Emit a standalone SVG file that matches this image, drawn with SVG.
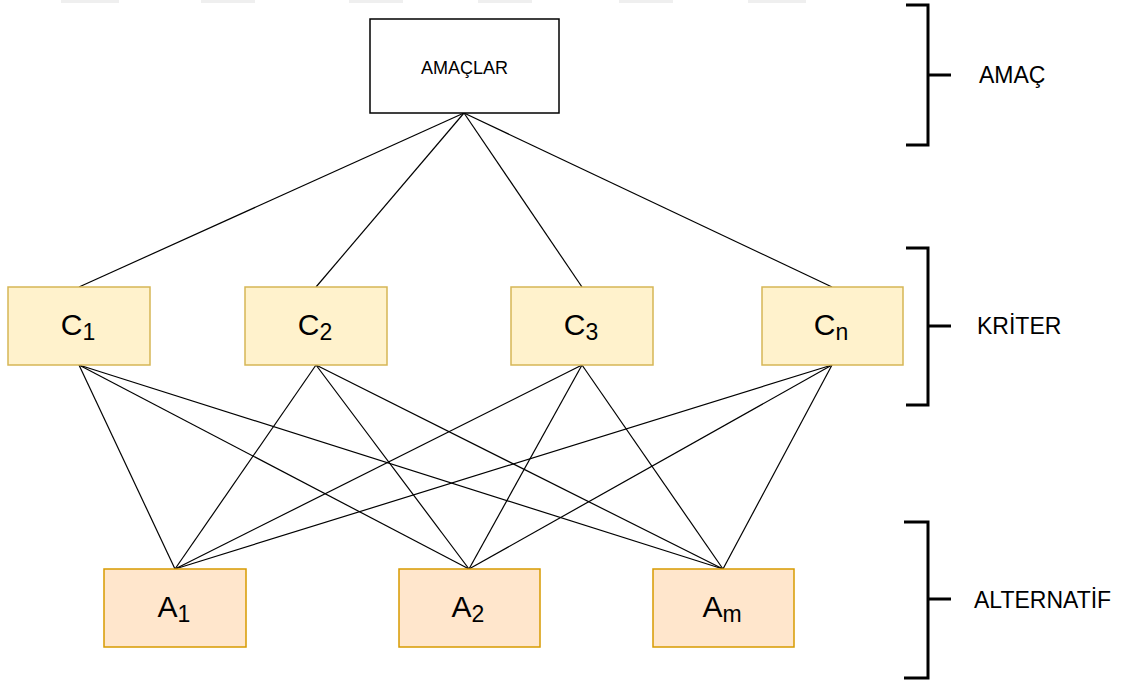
<svg xmlns="http://www.w3.org/2000/svg" width="1124" height="682" viewBox="0 0 1124 682">
<style>
text{font-family:"Liberation Sans",Arial,sans-serif;fill:#000}
.c rect{fill:#fff2cc;stroke:#d6b656;stroke-width:1.5}
.a rect{fill:#ffe6cc;stroke:#d79b00;stroke-width:1.5}
.lbl{font-size:30px;text-anchor:middle}
.sub{font-size:23px}
.edges line{stroke:#000;stroke-width:1.2}
.br{fill:none;stroke:#000;stroke-width:3}
.side{font-size:23px}
.wm{fill:#efefef}
</style>
<g id="watermark">
<rect class="wm" x="61" y="0" width="58" height="3"/>
<rect class="wm" x="201" y="0" width="54" height="3"/>
<rect class="wm" x="349" y="0" width="54" height="3"/>
<rect class="wm" x="478" y="0" width="54" height="3"/>
<rect class="wm" x="619" y="0" width="54" height="3"/>
<rect class="wm" x="748" y="0" width="58" height="3"/>
</g>
<g id="connectors" class="edges">
<line x1="464" y1="113" x2="79" y2="287"/>
<line x1="464" y1="113" x2="316" y2="287"/>
<line x1="464" y1="113" x2="582" y2="287"/>
<line x1="464" y1="113" x2="832" y2="287"/>
<line x1="79" y1="365" x2="175" y2="569"/>
<line x1="79" y1="365" x2="469" y2="569"/>
<line x1="79" y1="365" x2="723" y2="569"/>
<line x1="316" y1="365" x2="175" y2="569"/>
<line x1="316" y1="365" x2="469" y2="569"/>
<line x1="316" y1="365" x2="723" y2="569"/>
<line x1="582" y1="365" x2="175" y2="569"/>
<line x1="582" y1="365" x2="469" y2="569"/>
<line x1="582" y1="365" x2="723" y2="569"/>
<line x1="832" y1="365" x2="175" y2="569"/>
<line x1="832" y1="365" x2="469" y2="569"/>
<line x1="832" y1="365" x2="723" y2="569"/>
</g>
<g id="amaclar">
<rect x="370" y="19" width="189" height="94" fill="#fff" stroke="#000" stroke-width="1.5"/>
<text x="464.5" y="74" font-size="18" text-anchor="middle">AMAÇLAR</text>
</g>
<g id="c1" class="c"><rect x="8" y="287" width="142" height="78"/><text class="lbl" x="78" y="335">C<tspan class="sub" dy="5">1</tspan></text></g>
<g id="c2" class="c"><rect x="245" y="287" width="142" height="78"/><text class="lbl" x="315" y="335">C<tspan class="sub" dy="5">2</tspan></text></g>
<g id="c3" class="c"><rect x="511" y="287" width="142" height="78"/><text class="lbl" x="581" y="335">C<tspan class="sub" dy="5">3</tspan></text></g>
<g id="cn" class="c"><rect x="762" y="287" width="141" height="78"/><text class="lbl" x="831" y="335">C<tspan class="sub" dy="5">n</tspan></text></g>
<g id="a1" class="a"><rect x="104" y="569" width="142" height="78"/><text class="lbl" x="174" y="617">A<tspan class="sub" dy="5">1</tspan></text></g>
<g id="a2" class="a"><rect x="399" y="569" width="141" height="78"/><text class="lbl" x="468" y="617">A<tspan class="sub" dy="5">2</tspan></text></g>
<g id="am" class="a"><rect x="653" y="569" width="141" height="78"/><text class="lbl" x="722" y="617">A<tspan class="sub" dy="5">m</tspan></text></g>
<g id="bracket-amac">
<path class="br" d="M906 5 H928 V145 H906 M928 75 H951"/>
<text class="side" x="979" y="83">AMAÇ</text>
</g>
<g id="bracket-kriter">
<path class="br" d="M906 248 H928 V405 H906 M928 326 H951"/>
<text class="side" x="977" y="334">KRİTER</text>
</g>
<g id="bracket-alternatif">
<path class="br" d="M904 522 H928 V678 H904 M928 599 H951"/>
<text class="side" x="974" y="608">ALTERNATİF</text>
</g>
</svg>
